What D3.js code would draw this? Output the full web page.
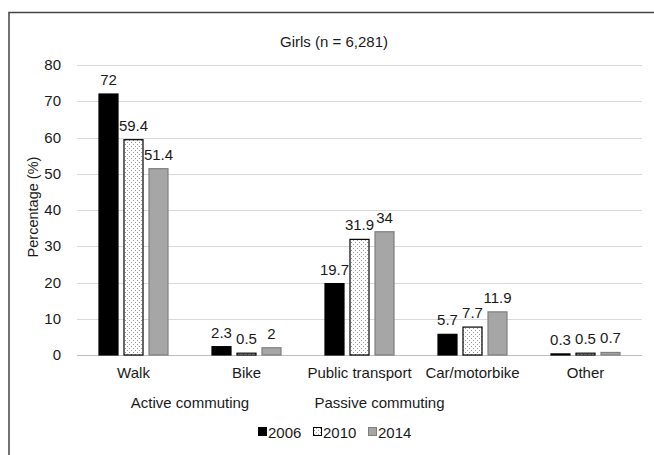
<!DOCTYPE html>
<html>
<head>
<meta charset="utf-8">
<script src="https://cdn.jsdelivr.net/npm/d3@7"></script>
<style>
  body { margin: 0; background: #fff; }
  text { font-family: "Liberation Sans", Arial, sans-serif; fill: #1a1a1a; }
</style>
</head>
<body>
<div id="chart"></div>
<script>
// data
const categories = ["Walk", "Bike", "Public transport", "Car/motorbike", "Other"];
const years = ["2006", "2010", "2014"];
const v2006 = [72, 2.3, 19.7, 5.7, 0.3];
const v2010 = [59.4, 0.5, 31.9, 7.7, 0.5];
const v2014 = [51.4, 2, 34, 11.9, 0.7];
const yTicks = [0, 10, 20, 30, 40, 50, 60, 70, 80];
const groupLabels = ["Active commuting", "Passive commuting"];

const width = 654, height = 455;

const svg = d3.select("#chart")
  .append("svg")
  .attr("width", width)
  .attr("height", height);

// dotted fill for 2010
const defs = svg.append("defs");
const pat = defs.append("pattern")
  .attr("id", "dots")
  .attr("patternUnits", "userSpaceOnUse")
  .attr("width", 4)
  .attr("height", 4);
pat.append("rect").attr("width", 4).attr("height", 4).attr("fill", "#fff");
pat.append("rect").attr("x", 1).attr("y", 0).attr("width", 1).attr("height", 1).attr("fill", "#999");
pat.append("rect").attr("x", 3).attr("y", 2).attr("width", 1).attr("height", 1).attr("fill", "#999");

// outer frame (runs off the right and bottom)
svg.append("rect")
  .attr("x", 9)
  .attr("y", 12.5)
  .attr("width", 700)
  .attr("height", 500)
  .attr("fill", "none")
  .attr("stroke", "#444")
  .attr("stroke-width", 1.5);

const x = d3.scaleBand().domain(categories).range([77, 642]);
const y = d3.scaleLinear().domain([0, 80]).range([355, 65]);
const inner = d3.scaleBand().domain(years).range([-35, 35]).paddingInner(0.2);

// gridlines
svg.selectAll("line.grid")
  .data(yTicks)
  .enter()
  .append("line")
  .attr("x1", 77)
  .attr("x2", 642)
  .attr("y1", d => Math.round(y(d)) + 0.5)
  .attr("y2", d => Math.round(y(d)) + 0.5)
  .attr("stroke", d => d === 0 ? "#bfbfbf" : "#d9d9d9")
  .attr("stroke-width", 1);

// y tick labels
svg.selectAll("text.ytick")
  .data(yTicks)
  .enter()
  .append("text")
  .attr("x", 61)
  .attr("y", d => y(d) + 5)
  .attr("text-anchor", "end")
  .style("font-size", "15px")
  .text(d => d);

// y title
svg.append("text")
  .attr("transform", "translate(38,207) rotate(-90)")
  .attr("text-anchor", "middle")
  .style("font-size", "14.5px")
  .text("Percentage (%)");

// title
svg.append("text")
  .attr("x", 334)
  .attr("y", 47)
  .attr("text-anchor", "middle")
  .style("font-size", "15px")
  .text("Girls (n = 6,281)");

const series = [
  { year: years[0], values: v2006, fill: "#000", stroke: "#000" },
  { year: years[1], values: v2010, fill: "url(#dots)", stroke: "#000" },
  { year: years[2], values: v2014, fill: "#a6a6a6", stroke: "#7f7f7f" }
];

series.forEach(s => {
  const g = svg.append("g");
  const cx = (d, i) => x(categories[i]) + x.bandwidth() / 2 + inner(s.year);
  g.selectAll("rect")
    .data(s.values)
    .enter()
    .append("rect")
    .attr("x", (d, i) => cx(d, i) + 0.5)
    .attr("y", d => y(d))
    .attr("width", inner.bandwidth() - 1)
    .attr("height", d => y(0) - y(d))
    .attr("fill", s.fill)
    .attr("stroke", s.stroke)
    .attr("stroke-width", 1.2);

  g.selectAll("text")
    .data(s.values)
    .enter()
    .append("text")
    .attr("x", (d, i) => cx(d, i) + inner.bandwidth() / 2)
    .attr("y", d => y(d) - 9)
    .attr("text-anchor", "middle")
    .style("font-size", "15px")
    .text(d => d);
});

// category labels
svg.selectAll("text.cat")
  .data(categories)
  .enter()
  .append("text")
  .attr("x", d => x(d) + x.bandwidth() / 2)
  .attr("y", 378)
  .attr("text-anchor", "middle")
  .style("font-size", "15px")
  .text(d => d);

// group labels under the categories
const groupX = [
  (x(categories[0]) + x(categories[1])) / 2 + x.bandwidth() / 2,
  x(categories[2]) + x.bandwidth() / 2 + 20
];
svg.selectAll("text.group")
  .data(groupLabels)
  .enter()
  .append("text")
  .attr("x", (d, i) => groupX[i])
  .attr("y", 408)
  .attr("text-anchor", "middle")
  .style("font-size", "15px")
  .text(d => d);

// legend
const legend = svg.append("g").attr("transform", "translate(258,438)");
series.forEach((s, i) => {
  const lg = legend.append("g").attr("transform", `translate(${i * 55},0)`);
  lg.append("rect")
    .attr("x", 0.5)
    .attr("y", -10.5)
    .attr("width", 8)
    .attr("height", 8)
    .attr("fill", s.fill)
    .attr("stroke", s.stroke)
    .attr("stroke-width", 1);
  lg.append("text")
    .attr("x", 10)
    .attr("y", 0)
    .style("font-size", "15px")
    .text(s.year);
});
</script>
</body>
</html>
